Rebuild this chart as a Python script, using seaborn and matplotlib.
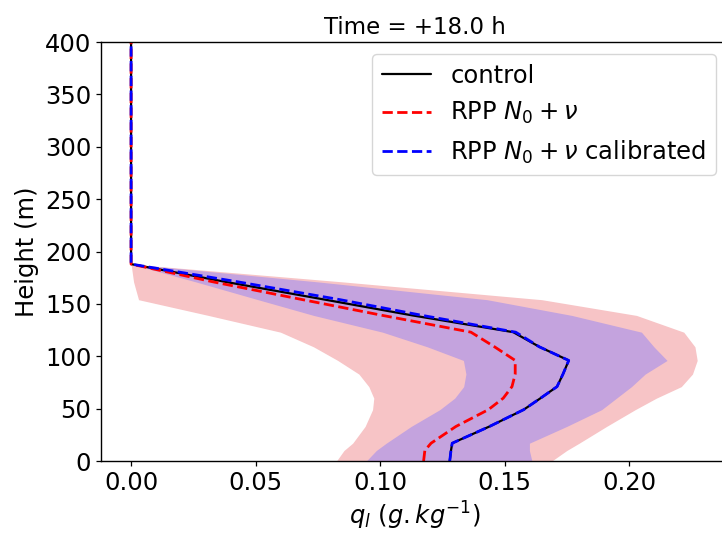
import matplotlib

matplotlib.use("Agg")
import matplotlib.pyplot as plt
import numpy as np
import pandas as pd
import seaborn as sns

# model levels (m)
heights = [0, 10, 17, 33, 49, 60, 71, 83, 96, 109, 123, 139, 154, 171, 188, 250, 300, 350, 400]

# mean liquid water profiles (g/kg)
ql_control = [0.128, 0.1285, 0.129, 0.144, 0.1577, 0.1645, 0.1711, 0.1735, 0.1758, 0.164,
              0.1535, 0.113, 0.078, 0.038, 0.0, 0.0, 0.0, 0.0, 0.0]
ql_rpp = [0.1175, 0.118, 0.1205, 0.1305, 0.1435, 0.1495, 0.153, 0.1543, 0.1543, 0.146,
          0.1365, 0.101, 0.069, 0.033, 0.0, 0.0, 0.0, 0.0, 0.0]
ql_rpp_cal = [0.128, 0.1285, 0.129, 0.144, 0.1577, 0.1645, 0.1711, 0.1735, 0.1758, 0.164,
              0.1545, 0.117, 0.084, 0.043, 0.0, 0.0, 0.0, 0.0, 0.0]

# ensemble spread (min / max)
rpp_low = [0.0825, 0.0855, 0.089, 0.094, 0.097, 0.0975, 0.0955, 0.0915, 0.083, 0.0733,
           0.060, 0.031, 0.003, 0.001, 0.0, 0.0, 0.0, 0.0, 0.0]
rpp_high = [0.169, 0.175, 0.180, 0.191, 0.2025, 0.211, 0.221, 0.2255, 0.2274, 0.2265,
            0.222, 0.203, 0.165, 0.085, 0.0, 0.0, 0.0, 0.0, 0.0]
cal_low = [0.0945, 0.0985, 0.1025, 0.1125, 0.124, 0.130, 0.1336, 0.1345, 0.1335, 0.119,
           0.101, 0.0733, 0.051, 0.026, 0.0, 0.0, 0.0, 0.0, 0.0]
cal_high = [0.161, 0.160, 0.160, 0.175, 0.189, 0.195, 0.201, 0.2065, 0.2153, 0.210,
            0.205, 0.177, 0.143, 0.075, 0.0, 0.0, 0.0, 0.0, 0.0]

sns.set_theme(style="ticks")
plt.rcParams["font.family"] = ["DejaVu Sans"]
plt.rcParams["mathtext.fontset"] = "dejavusans"
plt.rcParams["text.color"] = "black"
plt.rcParams["axes.labelcolor"] = "black"

df = pd.DataFrame({
    "height": heights,
    "control": ql_control,
    "rpp": ql_rpp,
    "rpp_cal": ql_rpp_cal,
})

fig = plt.figure(figsize=(7.22, 5.34), dpi=100)
ax = fig.add_axes([0.140, 0.1367, 0.8684, 0.7846])

ax.fill_betweenx(heights, rpp_low, rpp_high, color="#F7C4C6", linewidth=0)
ax.fill_betweenx(heights, cal_low, cal_high, color="#C4A3DE", linewidth=0)

sns.lineplot(data=df, x="control", y="height", orient="y", estimator=None,
             color="black", linewidth=1.6, label="control", ax=ax)
sns.lineplot(data=df, x="rpp", y="height", orient="y", estimator=None,
             color="red", linewidth=2, linestyle="--", label=r"RPP $N_0 + \nu$", ax=ax)
sns.lineplot(data=df, x="rpp_cal", y="height", orient="y", estimator=None,
             color="blue", linewidth=2, linestyle="--",
             label=r"RPP $N_0 + \nu$ calibrated", ax=ax)

ax.set_xlim(-0.01205, 0.2398)
ax.set_ylim(0, 400)
ax.set_xticks([0.0, 0.05, 0.10, 0.15, 0.20])
ax.set_yticks(np.arange(0, 401, 50))
ax.tick_params(labelsize=17.5, colors="black", length=3.5, width=0.9)
for s in ax.spines.values():
    s.set_color("black")
    s.set_linewidth(1.0)
ax.set_xlabel(r"$q_l\ (g.kg^{-1})$", fontsize=17.5)
ax.set_ylabel("Height (m)", fontsize=17.5)
ax.set_title("Time = +18.0 h", fontsize=16.5, color="black")
leg = ax.legend(loc="upper right", fontsize=17.5, frameon=True)
for t in leg.get_texts():
    t.set_color("black")

fig.savefig("out.png", dpi=100)
plt.close(fig)
